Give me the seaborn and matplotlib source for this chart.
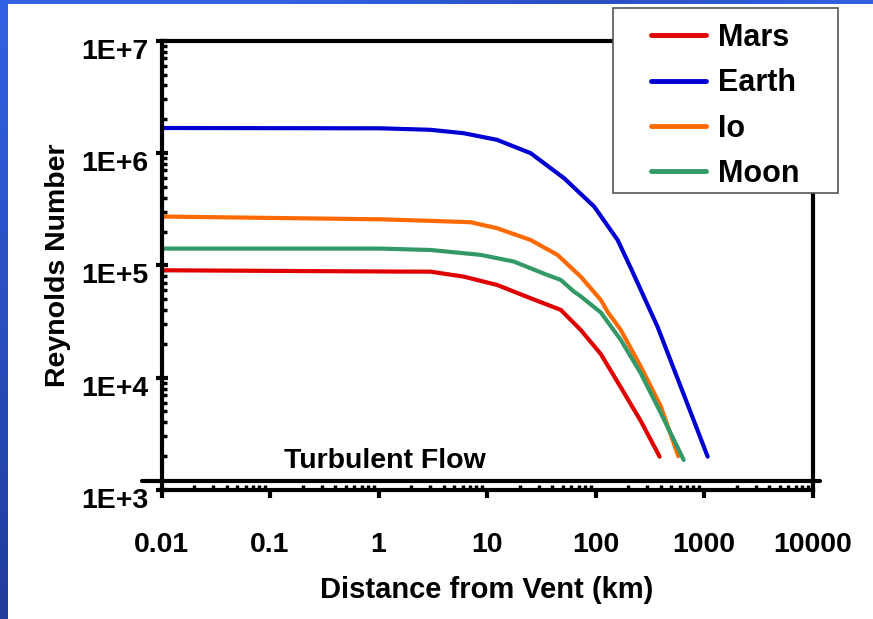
import numpy as np
import pandas as pd
import matplotlib
matplotlib.use("Agg")
import matplotlib.pyplot as plt
import matplotlib.ticker as mticker
import matplotlib.patches as mpatches
import matplotlib.transforms as mtransforms
import seaborn as sns

# data (distance in km, Reynolds number)

mars_km = [0.01, 1.59, 3.01, 6.12, 12.4, 25.3, 47.9, 73.1, 112, 171, 262, 390]
mars_re = [9.04e4, 8.8e4, 8.79e4, 7.93e4, 6.69e4, 5.09e4, 4.01e4, 2.66e4, 1.62e4, 8.2e3, 4.1e3, 1.98e3]

earth_km = [0.01, 1.04, 3.01, 6.12, 12.4, 25.3, 51.3, 97.1, 160, 212, 373, 532, 759, 1081]
earth_re = [1.67e6, 1.66e6, 1.61e6, 1.50e6, 1.31e6, 9.96e5, 5.97e5, 3.34e5, 1.68e5, 9.42e4,
            2.84e4, 1.17e4, 4.82e3, 1.98e3]

io_km = [0.01, 1.04, 3.01, 7.06, 12.4, 25.3, 44.6, 73.1, 112, 129, 171, 262, 401, 580]
io_re = [2.72e5, 2.57e5, 2.49e5, 2.42e5, 2.14e5, 1.68e5, 1.24e5, 7.93e4, 4.92e4, 3.87e4,
         2.66e4, 1.25e4, 5.52e3, 2.0e3]

moon_km = [0.01, 1.04, 3.01, 8.73, 17.7, 36.0, 47.9, 63.4, 73.1, 112, 171, 262, 401, 650]
moon_re = [1.41e5, 1.41e5, 1.37e5, 1.24e5, 1.08e5, 8.21e4, 7.41e4, 5.83e4, 5.3e4, 3.8e4,
           2.17e4, 1.09e4, 4.82e3, 1.85e3]

bodies = ["Mars", "Earth", "Io", "Moon"]
colors = {"Mars": "#e00000", "Earth": "#0000d2", "Io": "#ff6a00", "Moon": "#339966"}

turbulent_re = 1200

x_ticks = [0.01, 0.1, 1, 10, 100, 1000, 10000]
x_labels = ["0.01", "0.1", "1", "10", "100", "1000", "10000"]
y_ticks = [1e3, 1e4, 1e5, 1e6, 1e7]
y_labels = ["1E+3", "1E+4", "1E+5", "1E+6", "1E+7"]

# long-form table

frames = []
for name, km, re in [("Mars", mars_km, mars_re), ("Earth", earth_km, earth_re),
                     ("Io", io_km, io_re), ("Moon", moon_km, moon_re)]:
    frames.append(pd.DataFrame({"km": km, "re": re, "body": name}))
df = pd.concat(frames, ignore_index=True)

sns.set_style("white")
plt.rcParams['font.family'] = ['Liberation Sans', 'DejaVu Sans']
plt.rcParams['font.weight'] = 'bold'
plt.rcParams['text.color'] = 'black'
plt.rcParams['axes.labelcolor'] = 'black'
plt.rcParams['xtick.color'] = 'black'
plt.rcParams['ytick.color'] = 'black'

fig = plt.figure(figsize=(8.73, 6.19), dpi=100)
fig.patch.set_facecolor("white")

# blue slide border (left strip and top strip)
grad = np.linspace(0, 1, 256).reshape(-1, 1)
cmap = matplotlib.colors.LinearSegmentedColormap.from_list("slide", ["#3262e4", "#213c9c"])
bax = fig.add_axes([0, 0, 8 / 873, 1])
bax.imshow(grad, aspect="auto", cmap=cmap, extent=[0, 1, 0, 1])
bax.axis("off")
tax = fig.add_axes([0, 1 - 4 / 619, 1, 4 / 619])
tgrad = np.linspace(0, 1, 256).reshape(1, -1)
tcmap = matplotlib.colors.LinearSegmentedColormap.from_list("top", ["#3262e4", "#3262e4", "#2a4fc0", "#3262e4"])
tax.imshow(tgrad, aspect="auto", cmap=tcmap, extent=[0, 1, 0, 1])
tax.axis("off")

ax = fig.add_axes([161.5 / 873, 1 - 490 / 619, 651 / 873, 449.3 / 619])

sns.lineplot(data=df, x="km", y="re", hue="body", hue_order=bodies, palette=colors,
             linewidth=3, sort=False, estimator=None, legend=False, ax=ax)

ax.set_xscale("log")
ax.set_yscale("log")
ax.set_xlim(0.01, 10000)
ax.set_ylim(1e3, 1e7)

ax.set_xticks(x_ticks)
ax.set_xticklabels(x_labels)
ax.set_yticks(y_ticks)
ax.set_yticklabels(y_labels)
ax.xaxis.set_minor_locator(mticker.LogLocator(base=10, subs=np.arange(2, 10), numticks=20))
ax.yaxis.set_minor_locator(mticker.LogLocator(base=10, subs=np.arange(2, 10), numticks=20))
ax.xaxis.set_minor_formatter(mticker.NullFormatter())
ax.yaxis.set_minor_formatter(mticker.NullFormatter())

ax.tick_params(axis="x", which="major", direction="out", length=6, width=3,
               labelsize=20.5, pad=24, bottom=True)
ax.tick_params(axis="x", which="minor", direction="in", length=3.5, width=2.5, bottom=True)
ax.tick_params(axis="y", which="major", direction="inout", length=9, width=3,
               labelsize=20.5, pad=5, left=True)
ax.tick_params(axis="y", which="minor", direction="in", length=3.5, width=2.5, left=True)

# y tick labels sit a little below their ticks in the original
shift = mtransforms.ScaledTranslation(0, -0.08, fig.dpi_scale_trans)
for lab in ax.get_yticklabels():
    lab.set_transform(lab.get_transform() + shift)

for s in ax.spines.values():
    s.set_linewidth(3)
    s.set_color("black")

ax.set_xlabel("Distance from Vent (km)", fontsize=21, fontweight="bold", labelpad=13)
ax.set_ylabel("Reynolds Number", fontsize=20.5, fontweight="bold", labelpad=7)

# turbulent flow threshold line
ax.axhline(turbulent_re, xmin=-0.03, xmax=1.012, color="black", linewidth=3, clip_on=False)
ax.text(0.343, 0.064, "Turbulent Flow", transform=ax.transAxes, ha="center", va="center",
        fontsize=20.5, fontweight="bold")

# legend box
box = mpatches.Rectangle((613 / 873, 1 - 193 / 619), 225 / 873, 185 / 619,
                         transform=fig.transFigure, facecolor="white",
                         edgecolor="#555555", linewidth=1.2, zorder=9)
fig.patches.append(box)

handles = [plt.Line2D([], [], color=colors[b], linewidth=3.5) for b in bodies]
leg = fig.legend(handles, bodies, loc="center", bbox_to_anchor=(725.5 / 873, 1 - 106 / 619),
                 frameon=False, prop={"size": 22, "weight": "bold"},
                 handlelength=1.8, handletextpad=0.4, labelspacing=0.5,
                 borderpad=0.0, borderaxespad=0)
leg.set_zorder(10)

fig.savefig("out.png", dpi=100)
